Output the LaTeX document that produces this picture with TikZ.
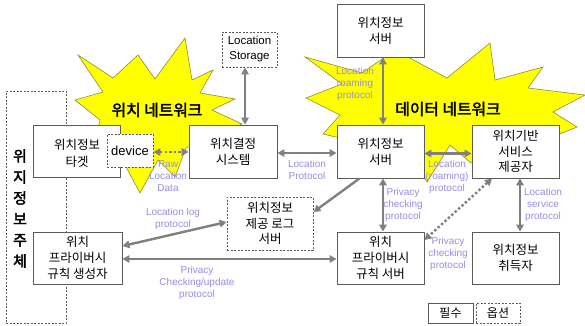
\documentclass[tikz,border=0pt]{standalone}
\usepackage{fontspec}
\setmainfont{Liberation Sans}
\newfontfamily\kr[AutoFakeBold=2.5]{Noto Sans CJK KR}
\usetikzlibrary{arrows.meta}
\definecolor{boxc}{RGB}{90,90,90}
\definecolor{arrc}{RGB}{128,128,128}
\definecolor{lblc}{RGB}{150,140,225}
\definecolor{starc}{RGB}{255,255,0}
\definecolor{stard}{RGB}{140,140,60}
\tikzset{
  box/.style={draw=boxc, fill=white, line width=0.9pt, inner sep=0pt, align=center,
    font=\kr\fontsize{12.5}{16}\selectfont},
  obox/.style={box, dash pattern=on 2pt off 1.5pt},
  conn/.style={draw=arrc, line width=2.4pt, >={Triangle[length=7pt,width=7.5pt]}},
  dotconn/.style={conn, dash pattern=on 2.4pt off 2.2pt},
  lbl/.style={text=lblc, font=\fontsize{10}{12}\selectfont, align=center, inner sep=0pt},
  star/.style={fill=starc, draw=stard, line width=0.6pt, line join=miter},
  netlbl/.style={font=\kr\bfseries\fontsize{15.8}{18}\selectfont, inner sep=0pt}
}
\begin{document}
\begin{tikzpicture}[x=1pt,y=-1pt]
\useasboundingbox (0,0) rectangle (585,325);
% starbursts
\draw[star] (185,38) -- (192,80) -- (213,70) -- (200,93) -- (235,99) -- (212,110) -- (242,124)
  -- (186,148) -- (175,177) -- (158,160) -- (140,193) -- (125,165) -- (95,142) -- (100,120)
  -- (75,100) -- (103,92) -- (78,55) -- (113,78) -- (138,55) -- (155,79) -- cycle;
\draw[star] (305,57) -- (362,73) -- (395,50) -- (447,78) -- (490,43) -- (495,80) -- (543,67)
  -- (528,88) -- (585,95) -- (553,112) -- (577,127) -- (545,140) -- (471,163) -- (450,145)
  -- (427,182) -- (412,155) -- (323,134) -- (340,115) -- (306,98) -- (342,84) -- cycle;
\node[netlbl] (n1) at (157,110) {위치 네트워크};
\node[netlbl] (n2) at (448,109) {데이터 네트워크};
% subject box
\node[obox, minimum width=60pt, minimum height=232pt] (subj) at (36,207) {};
\node[inner sep=0pt, align=center, font=\kr\bfseries\fontsize{15}{21}\selectfont] (subjt) at (20,208.5) {위\\지\\정\\보\\주\\체};
% boxes
\node[box, minimum width=87pt, minimum height=52pt] (tgt) at (76.5,151) {};
\node[inner sep=0pt, align=center, font=\kr\fontsize{12.5}{17}\selectfont] (tgtt) at (77,153) {위치정보\\타겟};
\node[obox, minimum width=46pt, minimum height=33pt, font=\fontsize{13}{15}\selectfont] (dev) at (130,150.5) {device};
\node[box, minimum width=88pt, minimum height=53pt] (lds) at (233,151.5) {위치결정\\시스템};
\node[obox, minimum width=55pt, minimum height=35pt, font=\fontsize{11.5}{15}\selectfont] (stor) at (249.5,49.5) {Location\\Storage};
\node[box, minimum width=87pt, minimum height=53pt] (srvtop) at (380.5,30.5) {위치정보\\서버};
\node[box, minimum width=87pt, minimum height=53pt] (srv) at (380.5,151.5) {위치정보\\서버};
\node[box, minimum width=87pt, minimum height=53pt, font=\kr\fontsize{12.5}{15.5}\selectfont] (lbs) at (515.5,151.5) {위치기반\\서비스\\제공자};
\node[obox, minimum width=86pt, minimum height=53pt, font=\kr\fontsize{12.5}{15.5}\selectfont] (log) at (270,223.5) {위치정보\\제공 로그\\서버};
\node[box, minimum width=89pt, minimum height=52pt, font=\kr\fontsize{12.5}{16}\selectfont] (gen) at (77.5,258) {위치\\프라이버시\\규칙 생성자};
\node[box, minimum width=87pt, minimum height=52pt, font=\kr\fontsize{12.5}{16}\selectfont] (prs) at (380.5,258) {위치\\프라이버시\\규칙 서버};
\node[box, minimum width=87pt, minimum height=52pt] (acq) at (515.5,258) {위치정보\\취득자};
\node[box, minimum width=45pt, minimum height=20pt, font=\kr\fontsize{12}{14}\selectfont] (leg1) at (450.5,313) {필수};
\node[obox, minimum width=44pt, minimum height=20pt, font=\kr\fontsize{12}{14}\selectfont] (leg2) at (498,313) {옵션};
% connectors
\draw[dotconn, <->] (dev.east |- 0,152) coordinate (d1) -- (lds.west |- d1);
\draw[conn, <->] ([xshift=-4.5pt]stor.south) -- ([xshift=12pt]lds.north);
\draw[conn, <->] ([yshift=-1.5pt]lds.east) -- ([yshift=-1.5pt]srv.west);
\draw[conn, <->] ([xshift=2.5pt]srvtop.south) -- ([xshift=2.5pt]srv.north);
\draw[conn, <->] ([yshift=-2pt]srv.east) -- ([yshift=-2pt]lbs.west);
\draw[conn, ->] ([xshift=-21pt]srv.south) -- ([yshift=11.5pt]log.east);
\draw[conn, <->] ([yshift=12pt]gen.east) -- ([yshift=1.5pt]log.west);
\draw[conn, <->] ([yshift=-1pt]gen.east) -- ([yshift=-1pt]prs.west);
\draw[conn, <->] ([xshift=2.5pt]srv.south) -- ([xshift=2.5pt]prs.north);
\draw[dotconn, <->] ([xshift=-23.5pt]lbs.south) -- ([yshift=18pt]prs.east);
\draw[conn, <->] ([xshift=4.5pt]lbs.south) -- ([xshift=4.5pt]acq.north);
% labels
\node[lbl] (l1) at (168,176) {Raw\\Location\\Data};
\node[lbl] (l2) at (307,169.5) {Location\\Protocol};
\node[lbl] (l3) at (355,84) {Location\\roaming\\protocol};
\node[lbl] (l4) at (447,177) {Location\\(roaming)\\protocol};
\node[lbl] (l5) at (173,219) {Location log\\protocol};
\node[lbl] (l6) at (197,283) {Privacy\\Checking/update\\protocol};
\node[lbl] (l7) at (403,205) {Privacy\\checking\\protocol};
\node[lbl] (l8) at (448,254) {Privacy\\checking\\protocol};
\node[lbl] (l9) at (543,205) {Location\\service\\protocol};
\end{tikzpicture}
\end{document}
